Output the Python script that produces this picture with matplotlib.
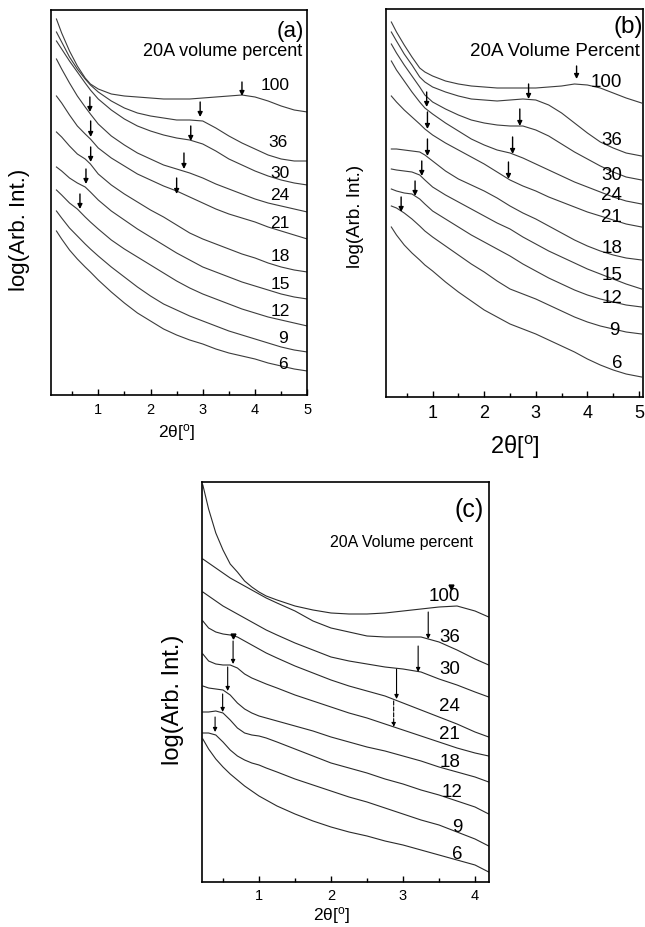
import matplotlib
matplotlib.use("Agg")
import matplotlib.pyplot as plt

plt.rcParams['font.family'] = ['Liberation Sans', 'DejaVu Sans']
plt.rcParams['mathtext.fontset'] = 'custom'
plt.rcParams['mathtext.rm'] = 'Liberation Sans'
plt.rcParams['mathtext.it'] = 'Liberation Sans:italic'

W, H = 645, 928

# ---------------- data (2theta in degrees, curve heights read as image rows) -------------
series_labels = ['100', '36', '30', '24', '21', '18', '15', '12', '9', '6']
c_series_labels = ['100', '36', '30', '24', '21', '18', '12', '9', '6']

a_theta = [0.2, 0.3, 0.45, 0.6, 0.75, 0.85, 1.0, 1.25, 1.5, 1.75, 2.0, 2.25, 2.5,
           2.75, 3.0, 3.25, 3.5, 3.75, 4.0, 4.25, 4.5, 4.75, 5.0]
a_100 = [20, 34, 52, 67, 79, 85, 90, 95, 97, 98, 99, 100, 100, 100, 99, 98, 97, 96, 98, 102, 107, 111, 113]
a_36 = [33, 43, 58, 70, 80, 86, 93, 102, 109, 114, 117, 119, 121, 121, 122, 129, 137, 144, 150, 156, 160, 162, 162]
a_30 = [42, 50, 62, 73, 84, 91, 100, 111, 120, 127, 132, 136, 139, 141, 145, 152, 160, 166, 172, 177, 181, 184, 186]
a_24 = [60, 70, 84, 97, 108, 115, 125, 137, 146, 154, 160, 166, 170, 174, 179, 185, 190, 195, 200, 204, 207, 210, 213]
a_21 = [97, 104, 116, 127, 135, 140, 149, 159, 167, 175, 181, 187, 192, 198, 204, 210, 215, 219, 223, 228, 232, 236, 240]
a_18 = [133, 138, 147, 155, 160, 165, 175, 186, 195, 203, 211, 218, 226, 234, 240, 245, 250, 255, 259, 264, 268, 271, 273]
a_15 = [168, 172, 179, 184, 188, 193, 201, 212, 221, 230, 238, 246, 254, 261, 268, 273, 278, 283, 287, 291, 295, 298, 300]
a_12 = [191, 196, 204, 210, 218, 223, 230, 241, 250, 258, 266, 274, 282, 289, 295, 300, 305, 310, 314, 318, 321, 324, 327]
a_9 = [212, 219, 229, 237, 245, 250, 257, 268, 278, 288, 297, 305, 311, 317, 322, 327, 332, 336, 340, 344, 348, 351, 353]
a_6 = [232, 240, 251, 260, 268, 273, 281, 293, 304, 314, 322, 330, 336, 341, 345, 350, 354, 357, 360, 364, 367, 370, 372]

b_theta = [0.2, 0.3, 0.45, 0.6, 0.75, 0.85, 1.0, 1.25, 1.5, 1.75, 2.0, 2.25, 2.5,
           2.75, 3.0, 3.25, 3.5, 3.75, 4.0, 4.25, 4.5, 4.75, 5.05]
b_100 = [23, 33, 46, 58, 69, 73, 77, 82, 85, 87, 88, 89, 89, 89, 89, 88, 87, 85, 86, 89, 94, 99, 104]
b_36 = [33, 42, 55, 66, 78, 83, 88, 93, 97, 100, 101, 102, 101, 100, 101, 106, 114, 124, 134, 143, 149, 154, 157]
b_30 = [45, 54, 66, 77, 88, 96, 103, 110, 116, 121, 124, 126, 127, 127, 131, 137, 145, 153, 160, 167, 173, 178, 181]
b_24 = [62, 71, 82, 93, 103, 109, 115, 124, 132, 140, 146, 151, 154, 159, 165, 171, 177, 183, 188, 193, 198, 202, 205]
b_21 = [97, 103, 111, 118, 125, 130, 136, 144, 151, 158, 165, 173, 181, 187, 192, 198, 203, 208, 213, 217, 221, 225, 228]
b_18 = [150, 150, 151, 152, 153, 156, 162, 172, 180, 186, 192, 199, 207, 214, 220, 227, 234, 241, 247, 252, 256, 259, 261]
b_15 = [170, 171, 172, 173, 176, 181, 188, 196, 203, 210, 217, 224, 230, 238, 245, 252, 258, 264, 270, 275, 280, 285, 290]
b_12 = [190, 192, 194, 195, 200, 205, 212, 220, 228, 236, 243, 250, 257, 265, 272, 279, 285, 291, 296, 300, 303, 306, 308]
b_9 = [207, 209, 214, 220, 227, 232, 238, 247, 256, 265, 273, 282, 290, 295, 300, 306, 312, 318, 323, 327, 330, 333, 335]
b_6 = [228, 236, 246, 254, 261, 266, 272, 283, 293, 302, 311, 318, 325, 330, 335, 341, 347, 353, 360, 366, 371, 375, 378]

c_theta = [0.22, 0.3, 0.4, 0.5, 0.6, 0.7, 0.8, 0.9, 1.0, 1.1, 1.25, 1.5, 1.75, 2.0,
           2.25, 2.5, 2.75, 3.0, 3.25, 3.5, 3.75, 4.0, 4.19]
c_100 = [486, 510, 534, 551, 565, 573, 582, 588, 593, 597, 601, 607, 611, 614, 615, 615, 614, 612, 610, 608, 607, 612, 618]
c_36 = [560, 564, 569, 574, 579, 583, 587, 591, 595, 599, 604, 612, 622, 629, 633, 637, 638, 638, 638, 643, 651, 660, 666]
c_30 = [593, 597, 602, 607, 611, 615, 619, 623, 627, 631, 636, 644, 651, 658, 662, 665, 668, 670, 673, 680, 686, 693, 698]
c_24 = [622, 629, 633, 635, 636, 638, 642, 646, 650, 654, 659, 667, 674, 681, 687, 692, 697, 704, 711, 718, 725, 733, 738]
c_21 = [655, 662, 665, 666, 666, 669, 675, 679, 682, 685, 689, 696, 702, 708, 714, 719, 725, 731, 737, 743, 749, 754, 757]
c_18 = [687, 689, 690, 691, 696, 704, 710, 714, 717, 719, 722, 727, 732, 738, 743, 748, 752, 757, 762, 768, 773, 778, 783]
c_12 = [713, 713, 712, 714, 721, 729, 734, 736, 737, 739, 743, 750, 757, 764, 769, 774, 780, 785, 791, 796, 802, 808, 815]
c_9 = [734, 734, 736, 743, 751, 757, 761, 764, 766, 769, 773, 780, 786, 792, 798, 803, 809, 815, 821, 826, 833, 840, 847]
c_6 = [740, 750, 760, 768, 775, 781, 787, 792, 797, 801, 807, 815, 822, 828, 833, 837, 842, 846, 851, 856, 861, 866, 873]

# series label positions (theta, row)
a_lab_x = [4.38, 4.43, 4.47, 4.47, 4.47, 4.49, 4.49, 4.49, 4.53, 4.53]
a_lab_y = [85, 142, 173, 195, 223, 256, 284, 311, 338, 364]
b_lab_x = [4.37, 4.47, 4.47, 4.47, 4.47, 4.47, 4.47, 4.47, 4.53, 4.57]
b_lab_y = [82, 140, 175, 195, 217, 248, 275, 298, 330, 363]
c_lab_x = [3.58, 3.65, 3.65, 3.65, 3.65, 3.65, 3.68, 3.75, 3.75]
c_lab_y = [597, 638, 670, 707, 735, 763, 793, 828, 855]

# arrows: theta, tail row, tip row
a_arr_x = [0.84, 0.855, 0.855, 0.765, 0.65, 3.75, 2.95, 2.77, 2.64, 2.5]
a_arr_tail = [98, 122, 148, 170, 195, 83, 103, 127, 154, 179]
a_arr_tip = [113, 138, 163, 185, 210, 97, 118, 142, 170, 195]
b_arr_x = [0.885, 0.9, 0.9, 0.79, 0.66, 0.39, 3.79, 2.86, 2.69, 2.55, 2.47]
b_arr_tail = [93, 113, 140, 162, 182, 198, 67, 85, 110, 138, 163]
b_arr_tip = [108, 130, 157, 177, 197, 213, 80, 100, 127, 155, 180]
c_arr_x = [0.64, 0.565, 0.495, 0.39, 3.35, 3.21, 2.91]
c_arr_tail = [642, 668, 695, 718, 613, 647, 670]
c_arr_tip = [665, 692, 713, 733, 640, 673, 700]
c_dash_x, c_dash_tail, c_dash_tip = 2.87, 702, 728
c_mark_x = [0.64, 3.67]
c_mark_y = [637, 588]

a_curves = [a_100, a_36, a_30, a_24, a_21, a_18, a_15, a_12, a_9, a_6]
b_curves = [b_100, b_36, b_30, b_24, b_21, b_18, b_15, b_12, b_9, b_6]
c_curves = [c_100, c_36, c_30, c_24, c_21, c_18, c_12, c_9, c_6]

fig = plt.figure(figsize=(W / 100, H / 100), dpi=100)


def px_rect(l, t, r, b):
    return [l / W, 1 - b / H, (r - l) / W, (b - t) / H]


def ftext(x, y, s, **kw):
    fig.text(x / W, 1 - y / H, s, **kw)


def panel(rect, xlim, ylim, majors, minors, tick_fs, pad):
    ax = fig.add_axes(rect)
    ax.set_xlim(*xlim)
    ax.set_ylim(*ylim)
    ax.set_yticks([])
    ax.set_xticks(majors)
    ax.set_xticks(minors, minor=True)
    ax.set_xticklabels([str(m) for m in majors])
    ax.tick_params(axis='x', which='major', direction='in', length=4, width=1,
                   labelsize=tick_fs, pad=pad)
    ax.tick_params(axis='x', which='minor', direction='in', length=3, width=1)
    for s in ax.spines.values():
        s.set_linewidth(1.2)
    return ax


def arrows(ax, xs, tails, tips, lw=1.0, ms=7, ls='-'):
    for x, t0, t1 in zip(xs, tails, tips):
        ax.annotate('', xy=(x, t1), xytext=(x, t0),
                    arrowprops=dict(arrowstyle='-|>', color='k', lw=lw,
                                    mutation_scale=ms, shrinkA=0, shrinkB=0,
                                    linestyle=ls))


line_col = '#3c3c3c'

# ---------------- panel (a) ----------------
axa = panel(px_rect(51, 11, 307.3, 396), (0.096, 5.0), (396, 11),
            [1, 2, 3, 4, 5], [0.5, 1.5, 2.5, 3.5, 4.5], 10.5, 5)
for ys in a_curves:
    axa.plot(a_theta, ys, color=line_col, lw=0.8)
for lab, x, y in zip(series_labels, a_lab_x, a_lab_y):
    axa.text(x, y, lab, ha='center', va='center', fontsize=12.5)
arrows(axa, a_arr_x, a_arr_tail, a_arr_tip)
ftext(304, 32, '(a)', ha='right', va='center', fontsize=16)
ftext(302, 52, '20A volume percent', ha='right', va='center', fontsize=13)
ftext(20, 230, 'log(Arb. Int.)', rotation=90, ha='center', va='center', fontsize=16)
ftext(177, 433, '2θ[$^{\\mathrm{o}}$]', ha='center', va='center', fontsize=12.5)

# ---------------- panel (b) ----------------
axb = panel(px_rect(385.7, 10, 643.3, 398), (0.091, 5.083), (398, 10),
            [1, 2, 3, 4, 5], [0.5, 1.5, 2.5, 3.5, 4.5], 13, 5)
for ys in b_curves:
    axb.plot(b_theta, ys, color=line_col, lw=0.8)
for lab, x, y in zip(series_labels, b_lab_x, b_lab_y):
    axb.text(x, y, lab, ha='center', va='center', fontsize=13.5)
arrows(axb, b_arr_x, b_arr_tail, b_arr_tip)
ftext(643, 27, '(b)', ha='right', va='center', fontsize=17.5)
ftext(640, 52, '20A Volume Percent', ha='right', va='center', fontsize=13.5)
ftext(355, 216, 'log(Arb. Int.)', rotation=90, ha='center', va='center', fontsize=13.5)
ftext(515, 447, '2θ[$^{\\mathrm{o}}$]', ha='center', va='center', fontsize=17)

# ---------------- panel (c) ----------------
axc = panel(px_rect(202.3, 483.3, 489, 883.3), (0.2125, 4.194), (883.3, 483.3),
            [1, 2, 3, 4], [0.5, 1.5, 2.5, 3.5], 10.5, 4)
for ys in c_curves:
    axc.plot(c_theta, ys, color='#2a2a2a', lw=0.8)
for lab, x, y in zip(c_series_labels, c_lab_x, c_lab_y):
    axc.text(x, y, lab, ha='center', va='center', fontsize=13.5)
arrows(axc, c_arr_x, c_arr_tail, c_arr_tip, lw=0.8, ms=6)
arrows(axc, [c_dash_x], [c_dash_tail], [c_dash_tip], lw=0.8, ms=6, ls='--')
axc.plot(c_mark_x, c_mark_y, linestyle='none', marker='v', color='k', markersize=3.5)
ftext(484, 510, '(c)', ha='right', va='center', fontsize=18)
ftext(473, 542, '20A Volume percent', ha='right', va='center', fontsize=11.5)
ftext(173, 700, 'log(Arb. Int.)', rotation=90, ha='center', va='center', fontsize=17)
ftext(332, 916, '2θ[$^{\\mathrm{o}}$]', ha='center', va='center', fontsize=12.5)

fig.savefig('out.png', dpi=100)
